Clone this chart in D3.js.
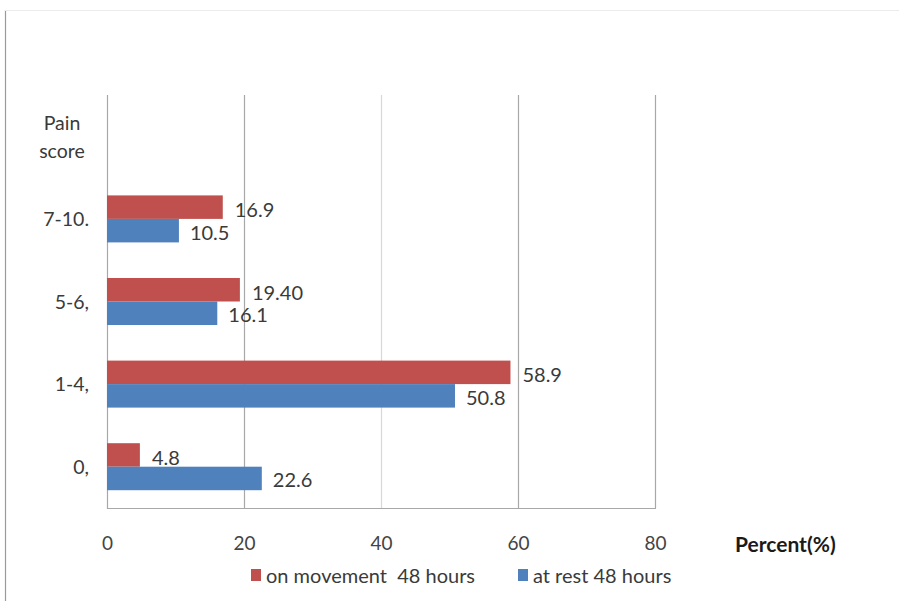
<!DOCTYPE html>
<html>
<head>
<meta charset="utf-8">
<script src="https://cdn.jsdelivr.net/npm/d3@7/dist/d3.min.js"></script>
<style>
  html, body { margin: 0; padding: 0; background: #fff; }
  svg text { font-family: Lato, "Open Sans", sans-serif; }
</style>
</head>
<body>
<svg id="chart" width="899" height="601"></svg>
<script>
// Pain score categories (top to bottom); the first row is the axis title slot
const categories = ["Pain score", "7-10.", "5-6,", "1-4,", "0,"];
const scoreGroups = ["7-10.", "5-6,", "1-4,", "0,"];
const onMovement = [16.9, 19.40, 58.9, 4.8];
const atRest = [10.5, 16.1, 50.8, 22.6];
const movementLabels = ["16.9", "19.40", "58.9", "4.8"];
const restLabels = ["10.5", "16.1", "50.8", "22.6"];
const xTicks = [0, 20, 40, 60, 80];
const seriesNames = ["on movement  48 hours", "at rest 48 hours"];
const seriesColors = ["#c0504d", "#4f81bd"];

const svg = d3.select("#chart");
const textColor = "#3a3a3a";

// outer frame lines
svg.append("line").attr("x1", 5.5).attr("x2", 5.5).attr("y1", 10).attr("y2", 601)
  .attr("stroke", "#9a9a9a").attr("stroke-width", 1.2);
svg.append("line").attr("x1", 5).attr("x2", 899).attr("y1", 10.5).attr("y2", 10.5)
  .attr("stroke", "#ececec").attr("stroke-width", 1);

const plot = { left: 107, right: 655, top: 95, bottom: 508 };

const x = d3.scaleLinear().domain([0, 80]).range([plot.left, plot.right]);
const y = d3.scaleBand().domain(categories).range([plot.top, plot.bottom]).paddingInner(0).paddingOuter(0);
const sub = d3.scaleBand().domain(["move", "rest"]).range([0, 47])
  .paddingInner(0).paddingOuter(0);
const groupOffset = (y.bandwidth() - 47) / 2;

// vertical gridlines
svg.append("g").selectAll("line").data(xTicks.slice(1)).join("line")
  .attr("x1", d => x(d) + 0.5).attr("x2", d => x(d) + 0.5)
  .attr("y1", plot.top).attr("y2", plot.bottom)
  .attr("stroke", d => d === 40 ? "#d8d8d8" : "#a8a8a8")
  .attr("stroke-width", 1.2);

// axis lines: left and bottom
svg.append("line").attr("x1", plot.left + 0.5).attr("x2", plot.left + 0.5)
  .attr("y1", plot.top).attr("y2", plot.bottom + 1)
  .attr("stroke", "#a8a8a8").attr("stroke-width", 1.2);
svg.append("line").attr("x1", plot.left).attr("x2", plot.right + 1)
  .attr("y1", plot.bottom + 0.5).attr("y2", plot.bottom + 0.5)
  .attr("stroke", "#a8a8a8").attr("stroke-width", 1.2);

// x tick labels
const xAxis = d3.axisBottom(x).tickValues(xTicks).tickSize(0).tickPadding(0);
const xg = svg.append("g").attr("transform", `translate(0, 536)`).call(xAxis);
xg.select(".domain").remove();
xg.selectAll("text").attr("font-size", 19).attr("fill", "#444")
  .attr("font-family", "Lato, sans-serif");

svg.append("text").attr("x", 735).attr("y", 552)
  .attr("font-size", 21).attr("font-weight", "bold").attr("fill", "#1a1a1a")
  .text("Percent(%)");

// category labels
svg.append("g").selectAll("text").data(scoreGroups).join("text")
  .attr("x", 89).attr("y", d => y(d) + y.bandwidth() / 2 + 7)
  .attr("text-anchor", "end").attr("font-size", 19.5).attr("fill", textColor)
  .text(d => d);

// "Pain score" title in its own row
const titleRow = y("Pain score") + y.bandwidth() / 2;
svg.append("text").attr("x", 62).attr("y", titleRow - 6)
  .attr("text-anchor", "middle").attr("font-size", 19.5).attr("fill", textColor).text("Pain");
svg.append("text").attr("x", 62).attr("y", titleRow + 22)
  .attr("text-anchor", "middle").attr("font-size", 19.5).attr("fill", textColor).text("score");

// bars
const rows = scoreGroups.map((g, i) => ({ g, move: onMovement[i], rest: atRest[i],
  moveLabel: movementLabels[i], restLabel: restLabels[i] }));

const barG = svg.append("g");
barG.selectAll("rect.move").data(rows).join("rect").attr("class", "move")
  .attr("x", x(0)).attr("y", d => y(d.g) + groupOffset + sub("move"))
  .attr("width", d => x(d.move) - x(0)).attr("height", sub.bandwidth())
  .attr("fill", seriesColors[0]);
barG.selectAll("rect.rest").data(rows).join("rect").attr("class", "rest")
  .attr("x", x(0)).attr("y", d => y(d.g) + groupOffset + sub("rest"))
  .attr("width", d => x(d.rest) - x(0)).attr("height", sub.bandwidth())
  .attr("fill", seriesColors[1]);

// value labels
barG.selectAll("text.move").data(rows).join("text").attr("class", "move")
  .attr("x", d => x(d.move) + 12)
  .attr("y", d => y(d.g) + groupOffset + sub("move") + sub.bandwidth() / 2 + 10)
  .attr("font-size", 20).attr("fill", textColor).text(d => d.moveLabel);
barG.selectAll("text.rest").data(rows).join("text").attr("class", "rest")
  .attr("x", d => x(d.rest) + 11)
  .attr("y", d => y(d.g) + groupOffset + sub("rest") + sub.bandwidth() / 2 + 9)
  .attr("font-size", 20).attr("fill", textColor).text(d => d.restLabel);

// legend
const legend = svg.append("g");
const legendItems = [{ name: seriesNames[0], color: seriesColors[0], x: 251 },
                     { name: seriesNames[1], color: seriesColors[1], x: 518 }];
legend.selectAll("rect").data(legendItems).join("rect")
  .attr("x", d => d.x).attr("y", 569).attr("width", 10).attr("height", 12)
  .attr("fill", d => d.color);
legend.selectAll("text").data(legendItems).join("text")
  .attr("x", d => d.x + 15).attr("y", 583)
  .attr("font-size", 20).attr("fill", textColor)
  .attr("xml:space", "preserve").style("white-space", "pre")
  .text(d => d.name);
</script>
</body>
</html>
